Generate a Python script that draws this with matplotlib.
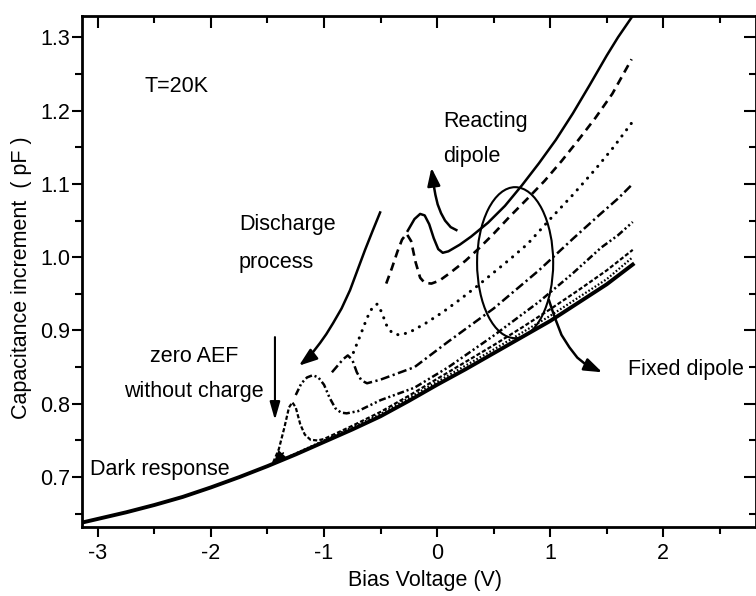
import numpy as np
import matplotlib
matplotlib.use("Agg")
import matplotlib.pyplot as plt
from matplotlib.patches import Ellipse

plt.rcParams["font.family"] = ["Liberation Sans", "DejaVu Sans"]
plt.rcParams["font.size"] = 15.5
plt.rcParams["axes.unicode_minus"] = False
plt.rcParams["lines.scale_dashes"] = False

# --- curves (bias V, capacitance increment pF) ---
dark_x = [-3.14, -2.75, -2.5, -2.25, -2.0, -1.75, -1.5, -1.25, -1.0, -0.75, -0.5,
          -0.25, 0.0, 0.25, 0.5, 0.75, 1.0, 1.25, 1.5, 1.73]
dark_y = [0.638, 0.652, 0.662, 0.673, 0.686, 0.700, 0.715, 0.731, 0.748, 0.765, 0.783,
          0.804, 0.826, 0.847, 0.869, 0.891, 0.913, 0.938, 0.963, 0.990]

solid_x = [-0.26, -0.2, -0.15, -0.11, -0.07, -0.03, 0.01, 0.05, 0.1, 0.2, 0.3, 0.45,
           0.6, 0.75, 0.9, 1.05, 1.2, 1.35, 1.5, 1.6, 1.72]
solid_y = [1.036, 1.052, 1.059, 1.057, 1.045, 1.026, 1.011, 1.006, 1.008, 1.017, 1.028,
           1.047, 1.070, 1.098, 1.128, 1.160, 1.196, 1.235, 1.275, 1.300, 1.327]

dash_x = [-0.45, -0.40, -0.35, -0.31, -0.27, -0.23, -0.19, -0.15, -0.11, -0.05, 0.02,
          0.11, 0.25, 0.37, 0.5, 0.64, 0.8, 0.95, 1.1, 1.25, 1.4, 1.55, 1.72]
dash_y = [0.964, 0.985, 1.008, 1.024, 1.032, 1.022, 0.993, 0.972, 0.965, 0.964, 0.968,
          0.978, 0.995, 1.012, 1.032, 1.055, 1.080, 1.104, 1.131, 1.160, 1.190, 1.223, 1.270]

dot_x = [-0.74, -0.68, -0.62, -0.57, -0.53, -0.49, -0.45, -0.40, -0.34, -0.25, -0.1,
         0.05, 0.2, 0.35, 0.5, 0.65, 0.8, 1.0, 1.2, 1.4, 1.56, 1.72]
dot_y = [0.870, 0.893, 0.917, 0.932, 0.936, 0.925, 0.908, 0.897, 0.894, 0.897, 0.910,
         0.925, 0.942, 0.960, 0.979, 0.998, 1.018, 1.052, 1.085, 1.120, 1.150, 1.183]

dashdot_x = [-0.93, -0.88, -0.83, -0.79, -0.75, -0.71, -0.67, -0.62, -0.5, -0.2, 0.1,
             0.5, 0.9, 1.2, 1.43, 1.6, 1.73]
dashdot_y = [0.843, 0.852, 0.861, 0.866, 0.860, 0.843, 0.832, 0.828, 0.833, 0.850, 0.885,
             0.930, 0.982, 1.025, 1.057, 1.080, 1.100]

dashdotdot_x = [-1.25, -1.2, -1.15, -1.1, -1.05, -1.0, -0.95, -0.9, -0.85, -0.8, -0.7,
                -0.5, -0.2, 0.1, 0.5, 0.9, 1.2, 1.45, 1.6, 1.73]
dashdotdot_y = [0.812, 0.828, 0.836, 0.839, 0.836, 0.826, 0.808, 0.794, 0.788, 0.787, 0.790,
                0.805, 0.822, 0.850, 0.893, 0.939, 0.978, 1.013, 1.030, 1.048]

shortdash_x = [-1.45, -1.40, -1.35, -1.31, -1.28, -1.25, -1.21, -1.17, -1.12, -1.06, -1.0,
               -0.75, -0.5, -0.25, 0.0, 0.25, 0.5, 0.75, 1.0, 1.25, 1.5, 1.73]
shortdash_y = [0.720, 0.738, 0.768, 0.795, 0.802, 0.795, 0.772, 0.758, 0.751, 0.750, 0.752,
               0.770, 0.789, 0.811, 0.834, 0.857, 0.880, 0.904, 0.929, 0.955, 0.982, 1.010]

shortdot_x = [-1.45, -1.0, -0.5, 0.0, 0.5, 1.0, 1.5, 1.73]
shortdot_y = [0.718, 0.750, 0.786, 0.830, 0.874, 0.920, 0.970, 1.000]

# annotation arrows (paths drawn by hand in the original)
discharge_x = [-0.504, -0.57, -0.637, -0.70, -0.770, -0.845, -0.920, -0.98, -1.035,
               -1.09, -1.142, -1.18, -1.222]
discharge_y = [1.061, 1.036, 1.010, 0.984, 0.955, 0.930, 0.910, 0.895, 0.883,
               0.872, 0.862, 0.857, 0.852]
reacting_x = [0.17, 0.12, 0.07, 0.035, 0.005, -0.015, -0.03, -0.05]
reacting_y = [1.037, 1.041, 1.050, 1.060, 1.072, 1.085, 1.098, 1.122]
fixed_x = [0.99, 1.02, 1.05, 1.10, 1.17, 1.24, 1.32, 1.46]
fixed_y = [0.941, 0.927, 0.914, 0.894, 0.877, 0.863, 0.853, 0.843]

x_major = [-3, -2, -1, 0, 1, 2]
x_labels = ["-3", "-2", "-1", "0", "1", "2"]
x_minor = [-2.5, -1.5, -0.5, 0.5, 1.5, 2.5]
y_major = [0.7, 0.8, 0.9, 1.0, 1.1, 1.2, 1.3]
y_labels = ["0.7", "0.8", "0.9", "1.0", "1.1", "1.2", "1.3"]
y_minor = [0.65, 0.75, 0.85, 0.95, 1.05, 1.15, 1.25]

INK = "black"
fig = plt.figure(figsize=(7.56, 5.96), dpi=100)
ax = fig.add_axes([0.1085, 0.1158, 0.8915, 0.8574])

ax.plot(dark_x, dark_y, color=INK, lw=2.8)
ax.plot(shortdot_x, shortdot_y, color=INK, lw=1.6, ls=(0, (1.2, 1.5)))
ax.plot(shortdash_x, shortdash_y, color=INK, lw=1.6, ls=(0, (3, 1.6)))
ax.plot(dashdotdot_x, dashdotdot_y, color=INK, lw=1.8, ls=(0, (5, 2, 1.5, 2, 1.5, 2)))
ax.plot(dashdot_x, dashdot_y, color=INK, lw=1.8, ls=(0, (6.5, 2.5, 1.6, 2.5)))
ax.plot(dot_x, dot_y, color=INK, lw=2.2, ls=(0, (0.1, 5.5)), dash_capstyle="round")
ax.plot(dash_x, dash_y, color=INK, lw=1.9, ls=(0, (6, 4)))
ax.plot(solid_x, solid_y, color=INK, lw=1.8)

ax.add_patch(Ellipse((0.69, 0.9925), 0.673, 0.206, fill=False, lw=1.5, ec=INK))

def curved_arrow(xs, ys):
    ax.plot(xs[:-1], ys[:-1], color=INK, lw=1.8)
    ax.annotate("", xy=(xs[-1], ys[-1]), xytext=(xs[-2], ys[-2]),
                arrowprops=dict(arrowstyle="-|>,head_length=0.7,head_width=0.25",
                                color=INK, lw=1.8, shrinkA=0, shrinkB=0))

curved_arrow(discharge_x, discharge_y)
curved_arrow(reacting_x, reacting_y)
curved_arrow(fixed_x, fixed_y)
ax.annotate("", xy=(-1.434, 0.778), xytext=(-1.434, 0.891),
            arrowprops=dict(arrowstyle="-|>,head_length=0.7,head_width=0.2",
                            color=INK, lw=1.5, shrinkA=0, shrinkB=0))
ax.annotate("", xy=(-1.45, 0.718), xytext=(-1.36, 0.733),
            arrowprops=dict(arrowstyle="-|>,head_length=0.5,head_width=0.2",
                            color=INK, lw=1.2, shrinkA=0, shrinkB=0))

ax.text(-2.584, 1.225, "T=20K", va="baseline")
ax.text(0.053, 1.177, "Reacting", va="baseline")
ax.text(0.053, 1.130, "dipole", va="baseline")
ax.text(-1.752, 1.037, "Discharge", va="baseline")
ax.text(-1.752, 0.985, "process", va="baseline")
ax.text(-2.15, 0.857, "zero AEF", ha="center", va="baseline")
ax.text(-2.15, 0.809, "without charge", ha="center", va="baseline")
ax.text(-3.07, 0.703, "Dark response", va="baseline")
ax.text(1.69, 0.839, "Fixed dipole", va="baseline")

ax.set_xlim(-3.14, 2.82)
ax.set_ylim(0.632, 1.329)
ax.set_xticks(x_major)
ax.set_xticklabels(x_labels)
ax.set_xticks(x_minor, minor=True)
ax.set_yticks(y_major)
ax.set_yticklabels(y_labels)
ax.set_yticks(y_minor, minor=True)
ax.tick_params(which="major", direction="out", length=7.5, width=1.5, pad=4)
ax.tick_params(axis="y", which="major", pad=1)
ax.tick_params(which="minor", direction="out", length=5, width=1.5)
for sp in ax.spines.values():
    sp.set_linewidth(2)

top = ax.secondary_xaxis("top")
top.set_xticks(x_major)
top.set_xticks(x_minor, minor=True)
top.tick_params(which="major", direction="in", length=8.5, width=1.5, labeltop=False)
top.tick_params(which="minor", direction="in", length=5, width=1.5)
right = ax.secondary_yaxis("right")
right.set_yticks(y_major)
right.set_yticks(y_minor, minor=True)
right.tick_params(which="major", direction="in", length=8.5, width=1.5, labelright=False)
right.tick_params(which="minor", direction="in", length=5, width=1.5)

fig.text(425 / 756, 0.0268, "Bias Voltage (V)", ha="center", va="center")
fig.text(0.029, 0.5344, "Capacitance increment  ( pF )", rotation=90,
         ha="center", va="center")

fig.savefig("out.png", dpi=100, facecolor="white")
